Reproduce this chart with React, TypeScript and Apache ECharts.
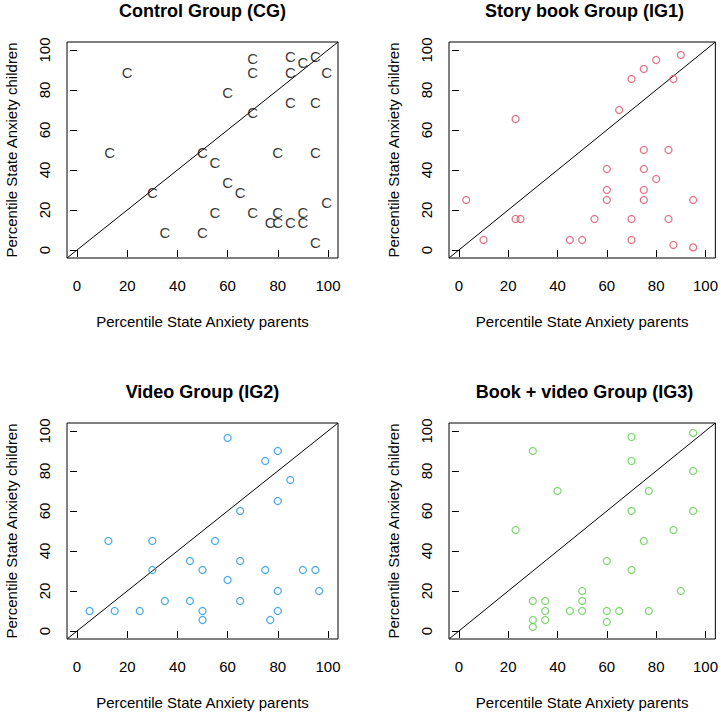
import React, { useEffect, useRef } from "react";
import * as echarts from "echarts";

// Tick labels shared by both axes of every panel
const tickValues = [0, 20, 40, 60, 80, 100];
const axisLimits = [-4, 104];

const panelTitles = [
  "Control Group (CG)",
  "Story book Group (IG1)",
  "Video Group (IG2)",
  "Book + video Group (IG3)",
];
const xAxisTitle = "Percentile State Anxiety parents";
const yAxisTitle = "Percentile State Anxiety children";

// Control group (CG)
const cgParents = [20, 13, 30, 35, 50, 50, 55, 55, 60, 60, 65, 70, 70, 70, 70, 80, 77, 80, 80, 85, 85, 85, 85, 90, 90, 90, 95, 95, 95, 95, 99.5, 99.5];
const cgChildren = [89, 49, 29, 9, 9, 49, 44, 19, 79, 34, 29, 96, 89, 69, 19, 49, 14, 19, 14, 97, 89, 74, 14, 94, 19, 14, 97, 74, 49, 4, 89, 24];

// Story book group (IG1)
const sbParents = [3, 10, 23, 23, 25, 45, 50, 55, 60, 60, 60, 65, 70, 70, 70, 75, 75, 75, 75, 75, 80, 80, 85, 85, 87, 87, 90, 95, 95];
const sbChildren = [25, 5, 65.5, 15.5, 15.5, 5, 5, 15.5, 40.5, 30, 25, 70, 85.5, 15.5, 5, 90.5, 50, 40.5, 30, 25, 95, 35.5, 50, 15.5, 85.5, 2.5, 97.5, 25, 1.3];

// Video group (IG2)
const vParents = [60, 80, 75, 85, 80, 65, 12.5, 30, 55, 30, 45, 50, 65, 60, 75, 90, 95, 80, 96.5, 5, 15, 25, 35, 45, 50, 50, 65, 80, 77];
const vChildren = [96.5, 90, 85, 75.5, 65, 60, 45, 45, 45, 30.5, 35, 30.5, 35, 25.5, 30.5, 30.5, 30.5, 20, 20, 10, 10, 10, 15, 15, 10, 5.5, 15, 10, 5.5];

// Book + video group (IG3)
const bvParents = [95, 70, 30, 70, 95, 40, 77, 70, 95, 23, 87, 75, 60, 70, 90, 50, 30, 35, 50, 35, 45, 50, 60, 65, 77, 30, 35, 60, 30];
const bvChildren = [99, 97, 90, 85, 80, 70, 70, 60, 60, 50.5, 50.5, 45, 35, 30.5, 20, 20, 15, 15, 15, 10, 10, 10, 10, 10, 10, 5.5, 5.5, 4.5, 2];

const zip = (a: number[], b: number[]) => a.map((v, i) => [v, b[i]]);

export default function App() {
  const ref = useRef<HTMLDivElement>(null);

  useEffect(() => {
    if (!ref.current) return;
    const chart = echarts.init(ref.current, null, { renderer: "svg" });
    const font = "Liberation Sans";

    const grids = [
      { left: 67, top: 42, width: 271, height: 216 },
      { left: 449, top: 42, width: 271, height: 216 },
      { left: 67, top: 423, width: 271, height: 216 },
      { left: 449, top: 423, width: 271, height: 216 },
    ];

    const colors = ["#000000", "#DF536B", "#2297E6", "#61D04F"];
    const groups = [
      zip(cgParents, cgChildren),
      zip(sbParents, sbChildren),
      zip(vParents, vChildren),
      zip(bvParents, bvChildren),
    ];
    const diagonal = [
      [axisLimits[0], axisLimits[0]],
      [axisLimits[1], axisLimits[1]],
    ];

    const xAxis = grids.map((_, i) => ({
      type: "value",
      gridIndex: i,
      min: axisLimits[0],
      max: axisLimits[1],
      axisLine: { show: false },
      axisTick: {
        show: true,
        customValues: tickValues,
        length: 7,
        inside: false,
        lineStyle: { color: "#000", width: 1 },
      },
      axisLabel: {
        customValues: tickValues,
        margin: 20,
        fontSize: 15,
        color: "#000",
        fontFamily: font,
      },
      splitLine: { show: false },
      name: xAxisTitle,
      nameLocation: "middle",
      nameGap: 56,
      nameTextStyle: { fontSize: 15, color: "#000", fontFamily: font },
    }));

    const yAxis = grids.map((_, i) => ({
      type: "value",
      gridIndex: i,
      min: axisLimits[0],
      max: axisLimits[1],
      axisLine: { show: false },
      axisTick: {
        show: true,
        customValues: tickValues,
        length: 7,
        inside: false,
        lineStyle: { color: "#000", width: 1 },
      },
      axisLabel: {
        customValues: tickValues,
        rotate: 90,
        margin: 15,
        fontSize: 15,
        color: "#000",
        fontFamily: font,
      },
      splitLine: { show: false },
      name: yAxisTitle,
      nameLocation: "middle",
      nameGap: 48,
      nameTextStyle: { fontSize: 15, color: "#000", fontFamily: font },
    }));

    const series: any[] = [];
    grids.forEach((_, i) => {
      series.push({
        type: "line",
        xAxisIndex: i,
        yAxisIndex: i,
        data: diagonal,
        symbol: "none",
        silent: true,
        lineStyle: { color: "#000", width: 1 },
        z: 1,
      });
      if (i === 0) {
        series.push({
          type: "scatter",
          xAxisIndex: i,
          yAxisIndex: i,
          data: groups[i],
          symbol: "circle",
          symbolSize: 1,
          itemStyle: { color: "rgba(0,0,0,0)" },
          label: {
            show: true,
            formatter: "C",
            position: "inside",
            fontSize: 15,
            color: "#000",
            fontFamily: font,
          },
          z: 2,
        });
      } else {
        series.push({
          type: "scatter",
          xAxisIndex: i,
          yAxisIndex: i,
          data: groups[i],
          symbol: "circle",
          symbolSize: 7,
          itemStyle: {
            color: "rgba(0,0,0,0)",
            borderColor: colors[i],
            borderWidth: 1.3,
          },
          z: 2,
        });
      }
    });

    const title = panelTitles.map((t, i) => ({
      text: t,
      left: grids[i].left + grids[i].width / 2,
      top: grids[i].top - 40,
      textAlign: "center",
      padding: 0,
      textStyle: { fontSize: 18, fontWeight: "bold", color: "#000", fontFamily: font },
    }));

    chart.setOption({
      animation: false,
      backgroundColor: "#fff",
      title,
      grid: grids.map((g) => ({
        ...g,
        show: true,
        borderColor: "#000",
        borderWidth: 1,
        backgroundColor: "rgba(0,0,0,0)",
        containLabel: false,
      })),
      xAxis,
      yAxis,
      series,
    });

    return () => chart.dispose();
  }, []);

  return (
    <div
      ref={ref}
      style={{ position: "fixed", left: 0, top: 0, width: 721, height: 713 }}
    />
  );
}
